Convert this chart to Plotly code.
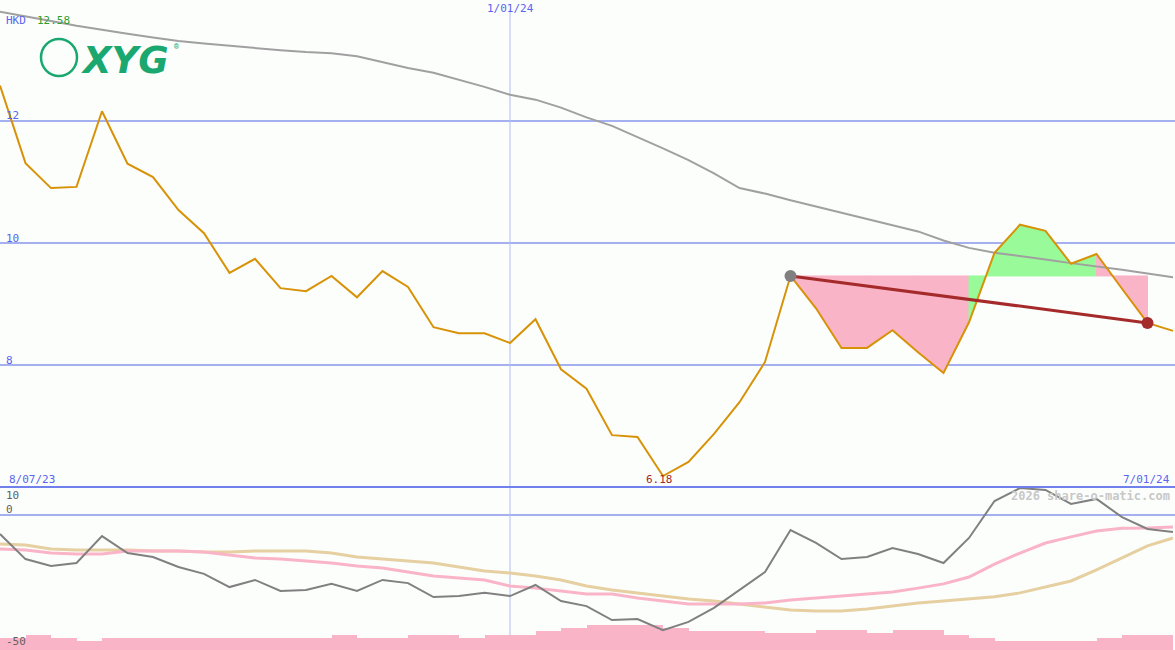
import plotly.graph_objects as go

# ---- data (weekly points, index 0..46) ----
price = [12.58, 11.31, 10.90, 10.92, 12.16, 11.30, 11.08, 10.54, 10.16, 9.51,
         9.74, 9.26, 9.21, 9.46, 9.11, 9.54, 9.28, 8.62, 8.52, 8.52,
         8.36, 8.75, 7.93, 7.61, 6.85, 6.82, 6.18, 6.41, 6.87, 7.39,
         8.05, 9.46, 8.93, 8.28, 8.28, 8.57, 8.21, 7.87, 8.70, 9.84,
         10.30, 10.20, 9.66, 9.82, 9.25, 8.69, 8.56]
ma_long = [13.79, 13.72, 13.64, 13.56, 13.49, 13.43, 13.37, 13.31, 13.27, 13.23,
           13.19, 13.16, 13.13, 13.11, 13.06, 12.96, 12.87, 12.79, 12.68, 12.56,
           12.43, 12.35, 12.22, 12.06, 11.92, 11.74, 11.55, 11.36, 11.14, 10.90,
           10.81, 10.70, 10.60, 10.49, 10.40, 10.30, 10.19, 10.04, 9.92, 9.84,
           9.79, 9.73, 9.67, 9.62, 9.56, 9.50, 9.44]
momentum = [-7.2, -16.7, -19.3, -18.2, -8.0, -14.4, -15.9, -19.7, -22.3, -27.3,
            -24.6, -28.8, -28.4, -26.1, -28.8, -24.6, -25.8, -31.1, -30.7, -29.5,
            -30.7, -26.5, -32.6, -34.5, -39.8, -39.4, -43.6, -40.5, -35.2, -28.4,
            -21.6, -5.7, -10.6, -16.7, -15.9, -12.5, -14.8, -18.2, -8.7, 5.3,
            10.2, 9.5, 4.2, 6.1, -0.8, -5.3, -6.4]
mom_fast = [-12.9, -13.3, -14.4, -14.8, -14.8, -13.6, -13.6, -13.6, -14.0, -15.2,
            -16.3, -16.7, -17.4, -18.2, -19.3, -20.1, -21.6, -23.1, -23.9, -24.6,
            -26.9, -27.7, -28.8, -29.9, -29.9, -31.4, -32.6, -33.7, -33.7, -33.7,
            -33.3, -32.2, -31.4, -30.7, -29.9, -29.2, -27.7, -26.1, -23.5, -18.6,
            -14.4, -10.6, -8.3, -6.1, -5.0, -4.9, -4.5]
mom_slow = [-11.0, -11.4, -12.9, -13.3, -13.3, -13.3, -13.6, -13.6, -14.0, -14.0,
            -13.6, -13.6, -13.6, -14.4, -15.9, -16.7, -17.4, -18.2, -19.7, -21.2,
            -22.0, -23.1, -24.6, -26.9, -28.4, -29.5, -30.7, -31.8, -32.6, -33.7,
            -34.8, -36.0, -36.4, -36.4, -35.6, -34.5, -33.3, -32.6, -31.8, -31.0,
            -29.5, -27.3, -25.0, -20.8, -16.3, -11.7, -8.7]
vol_top = [-46.6, -45.5, -46.6, -47.7, -46.6, -46.6, -46.6, -46.6, -46.6, -46.6,
           -46.6, -46.6, -46.6, -45.5, -46.6, -46.6, -45.5, -45.5, -46.6, -45.5,
           -45.5, -43.9, -42.8, -41.7, -41.7, -41.7, -42.8, -43.9, -43.9, -43.9,
           -44.7, -44.7, -43.6, -43.6, -44.7, -43.6, -43.6, -45.5, -46.6, -47.7,
           -47.7, -47.7, -47.7, -46.6, -45.5, -45.5]
x_idx = list(range(len(price)))
ref_i, end_i = 31, 45
date_left, date_mid, date_right = "8/07/23", "1/01/24", "7/01/24"
mid_idx = 20
low_label = "6.18"
low_idx = 26

BG = "#FCFEFC"
PINK = "#FAB4C8"
GREEN = "#98FA98"
GRID = "#A4B0F0"
BLUE_TXT = "#5A64F0"
FONT = "DejaVu Sans Mono"

fig = go.Figure()

# fills between reference level and price, coloured by segment end
level = price[ref_i]
for i in range(ref_i, end_i):
    col = GREEN if price[i + 1] > level else PINK
    fig.add_trace(go.Scatter(
        x=[x_idx[i], x_idx[i], x_idx[i + 1], x_idx[i + 1], x_idx[i]],
        y=[level, price[i], price[i + 1], level, level],
        fill="toself", fillcolor=col, line=dict(width=1, color=col),
        mode="lines", hoverinfo="skip", showlegend=False, xaxis="x", yaxis="y"))

fig.add_trace(go.Scatter(x=x_idx, y=ma_long, mode="lines",
                         line=dict(color="#A0A0A0", width=2), xaxis="x", yaxis="y", showlegend=False))
fig.add_trace(go.Scatter(x=x_idx, y=price, mode="lines",
                         line=dict(color="#D89208", width=2), xaxis="x", yaxis="y", showlegend=False))
fig.add_trace(go.Scatter(x=[x_idx[ref_i], x_idx[end_i]], y=[price[ref_i], price[end_i]], mode="lines",
                         line=dict(color="#A52A2A", width=3), xaxis="x", yaxis="y", showlegend=False))
fig.add_trace(go.Scatter(x=[x_idx[ref_i]], y=[price[ref_i]], mode="markers",
                         marker=dict(color="#808080", size=12), xaxis="x", yaxis="y", showlegend=False))
fig.add_trace(go.Scatter(x=[x_idx[end_i]], y=[price[end_i]], mode="markers",
                         marker=dict(color="#A52A2A", size=12), xaxis="x", yaxis="y", showlegend=False))

# lower panel
bar_base = -60
fig.add_trace(go.Bar(x=[i + 0.5 for i in range(len(vol_top))], y=[v - bar_base for v in vol_top],
                     base=bar_base, width=1.0, marker=dict(color=PINK, line=dict(width=0)),
                     xaxis="x", yaxis="y2", showlegend=False))
fig.add_trace(go.Scatter(x=x_idx, y=mom_slow, mode="lines", line=dict(color="#E6CFA0", width=3),
                         xaxis="x", yaxis="y2", showlegend=False))
fig.add_trace(go.Scatter(x=x_idx, y=mom_fast, mode="lines", line=dict(color=PINK, width=3),
                         xaxis="x", yaxis="y2", showlegend=False))
fig.add_trace(go.Scatter(x=x_idx, y=momentum, mode="lines", line=dict(color="#808080", width=2),
                         xaxis="x", yaxis="y2", showlegend=False))

split = 163 / 650
shapes = []
for g in [8, 10, 12]:
    shapes.append(dict(type="line", xref="paper", yref="y", x0=0, x1=1, y0=g, y1=g,
                       line=dict(color=GRID, width=2), layer="below"))
shapes.append(dict(type="line", xref="paper", yref="y2", x0=0, x1=1, y0=0, y1=0,
                   line=dict(color=GRID, width=2), layer="below"))
shapes.append(dict(type="line", xref="paper", yref="paper", x0=0, x1=1, y0=split, y1=split,
                   line=dict(color="#7080EC", width=2), layer="above"))
shapes.append(dict(type="line", xref="x", yref="paper", x0=mid_idx, x1=mid_idx, y0=0, y1=0.985,
                   line=dict(color="#B4BCF0", width=1), layer="below"))
# logo ring
shapes.append(dict(type="circle", xref="paper", yref="paper",
                   x0=41 / 1175, x1=77 / 1175, y0=1 - 76 / 650, y1=1 - 39 / 650,
                   line=dict(color="#1BA870", width=2.5)))

def ann(x, y, text, color, xanchor="left", size=11, xref="paper", yref="paper", **kw):
    return dict(x=x, y=y, xref=xref, yref=yref, text=text, showarrow=False,
                xanchor=xanchor, yanchor="middle", font=dict(family=FONT, size=size, color=color), **kw)

annotations = [
    ann(4 / 1175, 1 - 20 / 650, "HKD", BLUE_TXT),
    ann(35 / 1175, 1 - 20 / 650, "12.58", "#2EA02E"),
    ann(4 / 1175, 1 - 116 / 650, "12", BLUE_TXT),
    ann(4 / 1175, 1 - 238 / 650, "10", BLUE_TXT),
    ann(4 / 1175, 1 - 360 / 650, "8", BLUE_TXT),
    ann(mid_idx, 1 - 9 / 650, date_mid, BLUE_TXT, xanchor="center", xref="x"),
    ann(7 / 1175, 1 - 479 / 650, date_left, BLUE_TXT),
    ann(1172 / 1175, 1 - 479 / 650, date_right, BLUE_TXT, xanchor="right"),
    ann(low_idx - 0.15, 1 - 479 / 650, low_label, "#A52A2A", xanchor="center", xref="x"),
    ann(4 / 1175, 1 - 495 / 650, "10", "#606060"),
    ann(4 / 1175, 1 - 509 / 650, "0", "#606060"),
    ann(4 / 1175, 1 - 641 / 650, "-50", "#606060"),
    ann(1172 / 1175, 1 - 496 / 650, "<b>2026 share-o-matic.com</b>", "#C8C8C8", xanchor="right", size=12),
    dict(x=79 / 1175, y=1 - 60 / 650, xref="paper", yref="paper", text="<b><i>XYG</i></b>",
         showarrow=False, xanchor="left", yanchor="middle",
         font=dict(family="DejaVu Sans", size=37, color="#1BA870")),
    ann(172 / 1175, 1 - 47 / 650, "®", "#1BA870", size=8),
]

fig.update_layout(
    width=1175, height=650, margin=dict(l=0, r=0, t=0, b=0),
    paper_bgcolor=BG, plot_bgcolor=BG, showlegend=False, bargap=0,
    xaxis=dict(domain=[0, 1], range=[0, 1175 / 25.5], visible=False, anchor="y2", fixedrange=True),
    yaxis=dict(domain=[split, 1], range=[6.0, 12 + 121 / 61], visible=False, anchor="x"),
    yaxis2=dict(domain=[0, split], range=[(515 - 650) / 2.64, (515 - 487) / 2.64], visible=False, anchor="x"),
    shapes=shapes, annotations=annotations,
)

fig.write_html("out.html", config={"displayModeBar": False},
               post_script="document.body.style.margin='0';document.body.style.overflow='hidden';")
